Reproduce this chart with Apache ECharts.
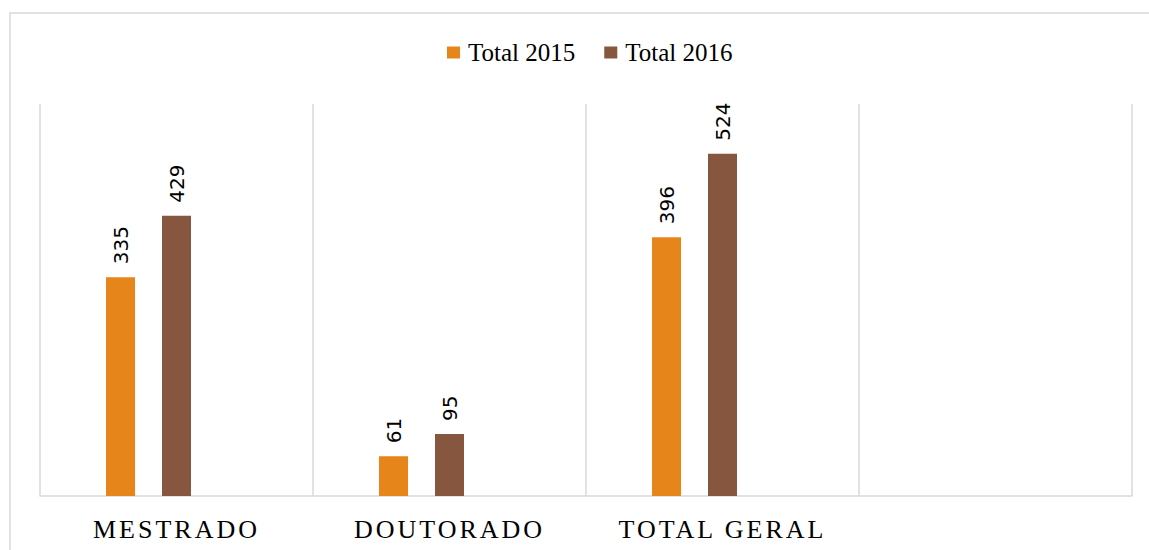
<!DOCTYPE html>
<html>
<head>
<meta charset="utf-8">
<script src="https://cdn.jsdelivr.net/npm/echarts@6/dist/echarts.min.js"></script>
<style>
    html, body { margin: 0; padding: 0; background: #fff; }
    #main { width: 1149px; height: 550px; }
</style>
</head>
<body>
<div id="main"></div>
<script>
var categories = ['MESTRADO', 'DOUTORADO', 'TOTAL GERAL', ''];
var total2015 = [335, 61, 396, null];
var total2016 = [429, 95, 524, null];
var seriesNames = ['Total 2015', 'Total 2016'];

var chart = echarts.init(document.getElementById('main'), null, { renderer: 'svg' });

var labelStyle = {
    show: true,
    position: 'top',
    rotate: 90,
    align: 'left',
    verticalAlign: 'middle',
    distance: 13,
    color: '#000',
    fontFamily: 'DejaVu Sans',
    fontSize: 20
};

var option = {
    animation: false,
    graphic: [
        {
            type: 'rect',
            shape: { x: 10, y: 13, width: 1170, height: 560 },
            style: { fill: 'none', stroke: '#d9d9d9', lineWidth: 1.5 },
            silent: true
        }
    ],
    legend: {
        data: seriesNames,
        left: 442,
        top: 35,
        itemWidth: 13,
        itemHeight: 12,
        itemGap: 29,
        icon: 'rect',
        textStyle: {
            fontFamily: 'Liberation Serif',
            fontSize: 25,
            color: '#000',
            padding: [0, 0, 0, 3]
        }
    },
    grid: {
        left: 40,
        right: 17,
        top: 104,
        bottom: 54
    },
    xAxis: {
        type: 'category',
        data: categories,
        axisTick: { show: false },
        axisLine: {
            lineStyle: { color: '#d9d9d9', width: 1.5 }
        },
        splitLine: {
            show: true,
            lineStyle: { color: '#d9d9d9', width: 1.5 }
        },
        axisLabel: {
            color: '#000',
            fontFamily: 'Liberation Serif',
            fontSize: 26,
            margin: 20,
            interval: 0
        }
    },
    yAxis: {
        type: 'value',
        min: 0,
        max: 600,
        show: false
    },
    series: [
        {
            name: seriesNames[0],
            type: 'bar',
            data: total2015,
            barWidth: 29,
            barGap: '93%',
            itemStyle: { color: '#E6851A' },
            label: labelStyle
        },
        {
            name: seriesNames[1],
            type: 'bar',
            data: total2016,
            barWidth: 29,
            barGap: '93%',
            itemStyle: { color: '#87563F' },
            label: labelStyle
        },
        {
            // empty third slot, keeps the two bars left of centre like the original
            name: 'vazio',
            type: 'bar',
            data: [null, null, null, null],
            barWidth: 29,
            barGap: '93%'
        }
    ]
};

chart.setOption(option);

// letter spacing for the category labels (svg renderer)
function spaceLabels() {
    var texts = document.querySelectorAll('#main svg text');
    texts.forEach(function(t) {
        if (categories.indexOf(t.textContent) >= 0 && t.textContent !== '') {
            t.style.letterSpacing = '3px';
        }
    });
}
chart.on('finished', spaceLabels);
setTimeout(spaceLabels, 100);
</script>
</body>
</html>
